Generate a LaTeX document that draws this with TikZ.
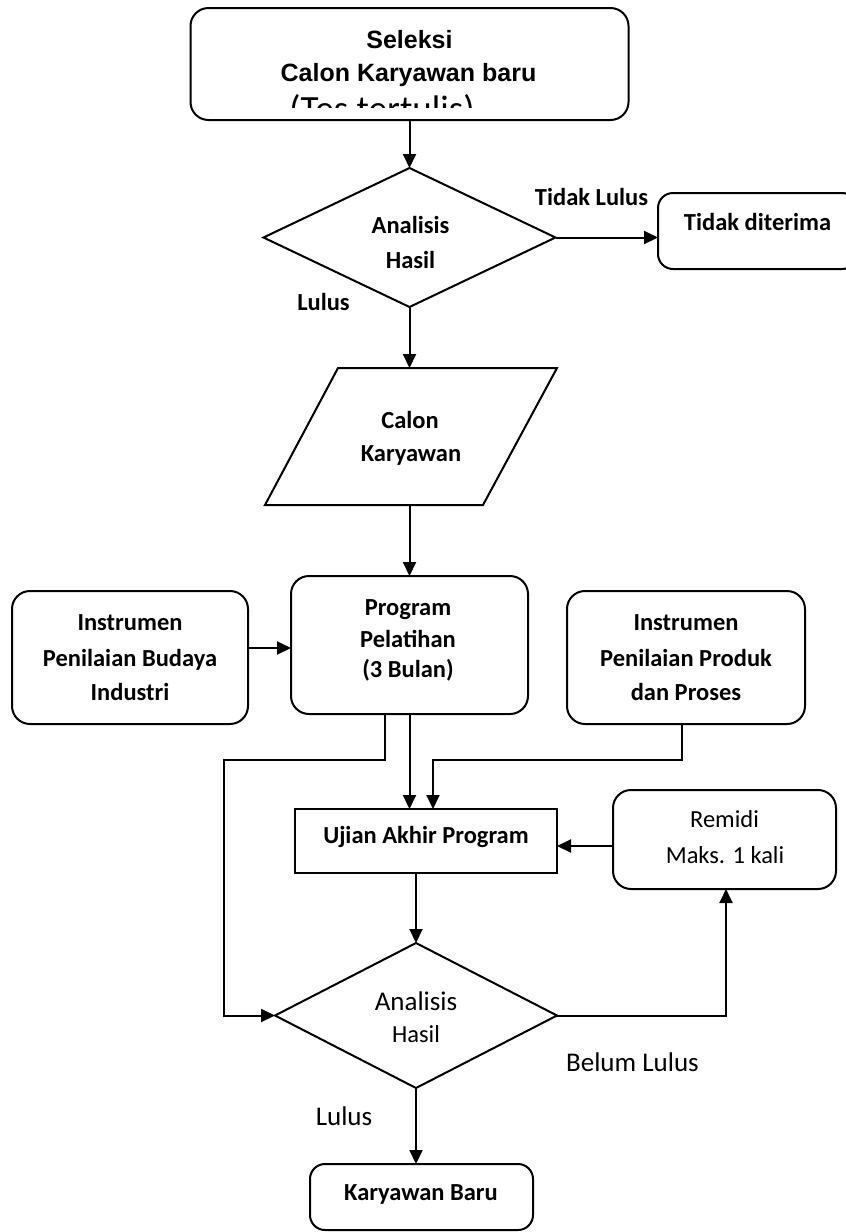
\documentclass[tikz,border=0pt]{standalone}
\usepackage{fontspec}
\setmainfont{Carlito}
\newfontfamily\arialfont{Liberation Sans}
\usetikzlibrary{arrows.meta,shapes.geometric}

\begin{document}
\begin{tikzpicture}[x=1pt,y=-1pt,
  box/.style={draw, line width=2pt, rounded corners=18pt, inner sep=0pt, outer sep=0pt},
  sharpbox/.style={draw, line width=2pt, inner sep=0pt, outer sep=0pt},
  decision/.style={draw, diamond, line width=2pt, inner sep=0pt, outer sep=0pt},
  anchorbox/.style={inner sep=0pt, outer sep=0pt},
  flow/.style={line width=2pt, -{Triangle[length=14pt,width=13pt]}},
  bt/.style={anchor=base, inner sep=0pt, font=\fontsize{24.5}{24.5}\selectfont\bfseries},
  rt/.style={anchor=base, inner sep=0pt, font=\fontsize{24.5}{24.5}\selectfont},
  rtl/.style={anchor=base, inner sep=0pt, font=\fontsize{27}{27}\selectfont},
  arialtxt/.style={anchor=base, inner sep=0pt, font=\arialfont\bfseries\fontsize{25}{25}\selectfont},
]
\useasboundingbox (0,0) rectangle (846,1232);
\clip (0,0) rectangle (846,1232);

% ---- shapes ----
\node[box, minimum width=438pt, minimum height=112pt] (sel) at (409.5,64) {};
\node[decision, minimum width=292pt, minimum height=139pt] (dia1) at (409.5,237.5) {};
\node[box, rounded corners=15pt, minimum width=199pt, minimum height=76pt] (tidak) at (757.5,231) {};
\node[anchorbox, minimum width=1pt, minimum height=137pt] (para) at (409.5,436.5) {};
\draw[line width=2pt, line join=miter] (338,368) -- (557,368) -- (483,505) -- (265,505) -- cycle;
\node[box, minimum width=237pt, minimum height=138pt] (prog) at (409.5,645) {};
\node[box, minimum width=236pt, minimum height=133pt] (lbox) at (130,657.5) {};
\node[box, minimum width=238pt, minimum height=133pt] (rbox) at (686,657.5) {};
\node[sharpbox, minimum width=262pt, minimum height=64pt] (ujian) at (426,841) {};
\node[box, minimum width=223pt, minimum height=99pt] (remidi) at (724.5,839.5) {};
\node[decision, minimum width=282pt, minimum height=145pt] (dia2) at (416,1015.5) {};
\node[box, rounded corners=15pt, minimum width=223pt, minimum height=66pt] (kb) at (421.5,1197) {};

% ---- junction points of the elbow connectors ----
\coordinate (jL) at (224,760);
\coordinate (jR) at (433,760);

% ---- connectors ----
\draw[flow] (sel.south) -- (dia1.north);
\draw[flow] (dia1.east) -- (dia1.east -| tidak.west);
\draw[flow] (dia1.south) -- (para.north);
\draw[flow] (para.south) -- (prog.north);
\draw[flow] ([yshift=-3pt]prog.west -| lbox.east) -- ([yshift=-3pt]prog.west);
\draw[flow] ([xshift=-25pt]prog.south) |- (jL) |- (dia2.west);
\draw[flow] (prog.south) -- (prog.south |- ujian.north);
\draw[flow] ([xshift=-4pt]rbox.south) |- (jR) -- (jR |- ujian.north);
\draw[flow] ([yshift=-6.5pt]remidi.west) -- ([yshift=-6.5pt]remidi.west -| ujian.east);
\draw[flow] ([xshift=-10pt]ujian.south) -- (dia2.north);
\draw[flow] (dia2.east) -| ([xshift=1.5pt]remidi.south);
\draw[flow] (dia2.south) -- (dia2.south |- kb.north);

% ---- texts ----
\node[arialtxt] (selA) at (409.5,48) {Seleksi};
\node[arialtxt] (selB) at (408.5,81) {Calon Karyawan baru};
\begin{scope}
  \clip (190,8) rectangle (628,107);
  \node[anchor=base, inner sep=0pt, font=\fontsize{37}{37}\selectfont] (selC) at (382,121) {(Tes tertulis)};
\end{scope}

\node[bt] (d1a) at (410.5,233) {Analisis};
\node[bt] (d1b) at (410.5,268) {Hasil};
\node[bt] (tl) at (591.5,205) {Tidak Lulus};
\node[bt] (td) at (757.5,230) {Tidak diterima};
\node[bt] (l1) at (323.5,310) {Lulus};

\node[bt] (pa) at (410,428) {Calon};
\node[bt] (pb) at (411,461) {Karyawan};

\node[bt] (pr1) at (408,615) {Program};
\node[bt] (pr2) at (408,647) {Pelatihan};
\node[bt] (pr3) at (408,677) {(3 Bulan)};

\node[bt] (lb1) at (130,630) {Instrumen};
\node[bt] (lb2) at (130,666) {Penilaian Budaya};
\node[bt] (lb3) at (130,700) {Industri};

\node[bt] (rb1) at (686,630) {Instrumen};
\node[bt] (rb2) at (686,666) {Penilaian Produk};
\node[bt] (rb3) at (686,700) {dan Proses};

\node[bt] (uj) at (426,843) {Ujian Akhir Program};

\node[rt] (rm1) at (724.5,827) {Remidi};
\node[rt] (rm2) at (725,863) {Maks. 1 kali};

\node[rtl] (d2a) at (416,1010) {Analisis};
\node[rt] (d2b) at (416,1042) {Hasil};
\node[rtl] (bl) at (632.5,1071) {Belum Lulus};
\node[rtl] (l2) at (344,1125) {Lulus};

\node[bt] (kbt) at (421,1200) {Karyawan Baru};
\end{tikzpicture}
\end{document}
